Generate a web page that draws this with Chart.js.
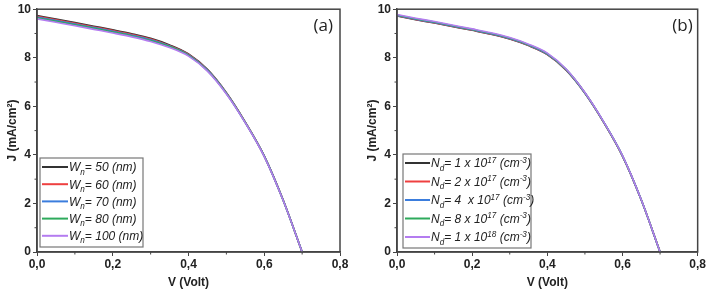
<!DOCTYPE html>
<html>
<head>
<meta charset="utf-8">
<script src="https://cdn.jsdelivr.net/npm/chart.js@4.4.1/dist/chart.umd.min.js"></script>
<style>
  html, body { margin: 0; padding: 0; background: #fff; }
  #wrap { position: relative; width: 707px; height: 290px; }
  .panel { position: absolute; top: 0; height: 290px; }
</style>
</head>
<body>
<div id="wrap">
  <div class="panel" style="left:0;width:360px"><canvas id="chartA" width="360" height="290"></canvas></div>
  <div class="panel" style="left:360px;width:347px"><canvas id="chartB" width="347" height="290"></canvas></div>
</div>
<script>
// voltage (V)
const voltage = [0, 0.05, 0.1, 0.15, 0.2, 0.25, 0.3, 0.35, 0.4, 0.45, 0.5, 0.55, 0.6, 0.65, 0.7];

// panel (a) : J (mA/cm2) for different W_n
const jWn50  = [9.74, 9.59, 9.45, 9.30, 9.15, 8.99, 8.80, 8.53, 8.16, 7.52, 6.56, 5.35, 3.96, 2.14, 0];
const jWn60  = [9.71, 9.56, 9.42, 9.27, 9.12, 8.96, 8.77, 8.50, 8.14, 7.50, 6.55, 5.34, 3.95, 2.13, 0];
const jWn70  = [9.68, 9.53, 9.39, 9.24, 9.09, 8.93, 8.74, 8.48, 8.12, 7.49, 6.54, 5.33, 3.95, 2.13, 0];
const jWn80  = [9.65, 9.50, 9.36, 9.21, 9.06, 8.90, 8.71, 8.46, 8.10, 7.47, 6.53, 5.33, 3.94, 2.12, 0];
const jWn100 = [9.60, 9.46, 9.32, 9.17, 9.02, 8.86, 8.67, 8.42, 8.07, 7.45, 6.51, 5.32, 3.93, 2.12, 0];

// panel (b) : J (mA/cm2) for different N_d
const jNd1e17 = [9.72, 9.57, 9.43, 9.28, 9.13, 8.97, 8.77, 8.50, 8.13, 7.49, 6.54, 5.34, 3.95, 2.14, 0];
const jNd2e17 = [9.73, 9.58, 9.44, 9.29, 9.14, 8.98, 8.78, 8.51, 8.14, 7.50, 6.55, 5.34, 3.95, 2.14, 0];
const jNd4e17 = [9.74, 9.59, 9.45, 9.30, 9.15, 8.99, 8.79, 8.52, 8.15, 7.51, 6.55, 5.35, 3.96, 2.14, 0];
const jNd8e17 = [9.76, 9.61, 9.47, 9.32, 9.17, 9.01, 8.81, 8.54, 8.17, 7.52, 6.56, 5.35, 3.96, 2.15, 0];
const jNd1e18 = [9.78, 9.63, 9.49, 9.34, 9.19, 9.03, 8.83, 8.56, 8.19, 7.54, 6.57, 5.36, 3.97, 2.15, 0];

// legend labels: [text, 'n' | 'sub' | 'sup']
const wnLabels = [
  [['W', 'n'], ['n', 'sub'], ['= 50 (nm)', 'n']],
  [['W', 'n'], ['n', 'sub'], ['= 60 (nm)', 'n']],
  [['W', 'n'], ['n', 'sub'], ['= 70 (nm)', 'n']],
  [['W', 'n'], ['n', 'sub'], ['= 80 (nm)', 'n']],
  [['W', 'n'], ['n', 'sub'], ['= 100 (nm)', 'n']],
];
const ndLabels = [
  [['N', 'n'], ['d', 'sub'], ['= 1 x 10', 'n'], ['17', 'sup'], [' (cm', 'n'], ['-3', 'sup'], [')', 'n']],
  [['N', 'n'], ['d', 'sub'], ['= 2 x 10', 'n'], ['17', 'sup'], [' (cm', 'n'], ['-3', 'sup'], [')', 'n']],
  [['N', 'n'], ['d', 'sub'], ['= 4  x 10', 'n'], ['17', 'sup'], [' (cm', 'n'], ['-3', 'sup'], [')', 'n']],
  [['N', 'n'], ['d', 'sub'], ['= 8 x 10', 'n'], ['17', 'sup'], [' (cm', 'n'], ['-3', 'sup'], [')', 'n']],
  [['N', 'n'], ['d', 'sub'], ['= 1 x 10', 'n'], ['18', 'sup'], [' (cm', 'n'], ['-3', 'sup'], [')', 'n']],
];

const colors = ['#333333', '#ee4040', '#3b7ddd', '#2eaa5c', '#b47cf0'];
const FONT = '"Liberation Sans", Arial, sans-serif';

function drawRich(ctx, parts, x, y, size) {
  parts.forEach(([t, m]) => {
    const s = m === 'n' ? size : size * 0.68;
    ctx.font = `italic ${s}px ${FONT}`;
    const dy = m === 'sub' ? size * 0.28 : m === 'sup' ? -size * 0.4 : 0;
    ctx.fillText(t, x, y + dy);
    x += ctx.measureText(t).width;
  });
}

// frame + minor ticks + tag + legend
const decoPlugin = {
  id: 'deco',
  afterDraw(chart, args, opts) {
    const ctx = chart.ctx;
    const a = chart.chartArea;
    const xs = chart.scales.x;
    const ys = chart.scales.y;
    ctx.save();
    ctx.strokeStyle = '#444';
    ctx.lineWidth = 1.5;
    ctx.strokeRect(a.left, a.top, a.right - a.left, a.bottom - a.top);

    // minor ticks half way between majors
    ctx.lineWidth = 1;
    ctx.beginPath();
    for (let i = 0; i < xs.ticks.length - 1; i++) {
      const px = xs.getPixelForValue((xs.ticks[i].value + xs.ticks[i + 1].value) / 2);
      ctx.moveTo(px, a.bottom);
      ctx.lineTo(px, a.bottom + 2.5);
    }
    for (let i = 0; i < ys.ticks.length - 1; i++) {
      const py = ys.getPixelForValue((ys.ticks[i].value + ys.ticks[i + 1].value) / 2);
      ctx.moveTo(a.left, py);
      ctx.lineTo(a.left - 2.5, py);
    }
    ctx.stroke();

    // panel tag
    ctx.fillStyle = '#222';
    ctx.font = `17px "Open Sans", ${FONT}`;
    ctx.textAlign = 'right';
    ctx.textBaseline = 'alphabetic';
    ctx.fillText(opts.tag, a.right - opts.tagDx, a.top + 22);

    // legend box
    const bx = a.left + opts.dx;
    const bw = opts.w;
    const bh = opts.h;
    const by = a.bottom - opts.dy - bh;
    ctx.strokeStyle = '#777';
    ctx.lineWidth = 1.2;
    ctx.strokeRect(bx, by, bw, bh);
    ctx.textAlign = 'left';
    chart.data.datasets.forEach((ds, i) => {
      const cy = by + 9 + i * opts.row;
      ctx.strokeStyle = ds.borderColor;
      ctx.lineWidth = 2;
      ctx.beginPath();
      ctx.moveTo(bx + 2, cy);
      ctx.lineTo(bx + 2 + opts.line, cy);
      ctx.stroke();
      ctx.fillStyle = '#222';
      drawRich(ctx, opts.labels[i], bx + 3 + opts.line, cy + 4.3, 12);
    });
    ctx.restore();
  },
};

function makeOptions(padRight, padTop, deco) {
  return {
    responsive: false,
    animation: false,
    layout: { padding: { left: 0, top: padTop, right: padRight, bottom: 0 } },
    plugins: { legend: { display: false }, tooltip: { enabled: false }, deco: deco },
    elements: { point: { radius: 0 }, line: { borderWidth: 1.6, cubicInterpolationMode: 'monotone' } },
    scales: {
      x: {
        type: 'linear', min: 0, max: 0.8,
        ticks: {
          stepSize: 0.2, padding: 1, color: '#222',
          font: { family: FONT, size: 12, weight: 'bold' },
          callback: (v) => v.toFixed(1).replace('.', ','),
        },
        grid: { drawOnChartArea: false, tickLength: 4, tickColor: '#444' },
        border: { color: '#444', width: 1.5 },
        title: {
          display: true, text: 'V (Volt)', color: '#222',
          font: { family: FONT, size: 12, weight: 'bold' },
          padding: { top: 0, bottom: 0 },
        },
        afterFit: (s) => { s.height = 38; },
      },
      y: {
        min: 0, max: 10,
        ticks: {
          stepSize: 2, padding: 2, color: '#222',
          font: { family: FONT, size: 12, weight: 'bold' },
        },
        grid: { drawOnChartArea: false, tickLength: 4, tickColor: '#444' },
        border: { color: '#444', width: 1.5 },
        title: {
          display: true, text: 'J (mA/cm²)', color: '#222',
          font: { family: FONT, size: 12, weight: 'bold' },
          padding: { top: 5, bottom: 0 },
        },
        afterFit: (s) => { s.width = 37; },
      },
    },
  };
}

function makeDatasets(series) {
  return series.map((arr, i) => ({
    data: voltage.map((v, k) => ({ x: v, y: arr[k] })),
    borderColor: colors[i],
    order: series.length - i,
  }));
}

new Chart(document.getElementById('chartA').getContext('2d'), {
  type: 'line',
  data: { datasets: makeDatasets([jWn50, jWn60, jWn70, jWn80, jWn100]) },
  options: makeOptions(20, 6, {
    tag: '(a)', tagDx: 7, labels: wnLabels,
    dx: 3, dy: 5, w: 103, h: 89, row: 17.2, line: 26,
  }),
  plugins: [decoPlugin],
});

new Chart(document.getElementById('chartB').getContext('2d'), {
  type: 'line',
  data: { datasets: makeDatasets([jNd1e17, jNd2e17, jNd4e17, jNd8e17, jNd1e18]) },
  options: makeOptions(9, 7, {
    tag: '(b)', tagDx: 5, labels: ndLabels,
    dx: 6, dy: 4, w: 128, h: 94, row: 18.5, line: 25,
  }),
  plugins: [decoPlugin],
});
</script>
</body>
</html>
